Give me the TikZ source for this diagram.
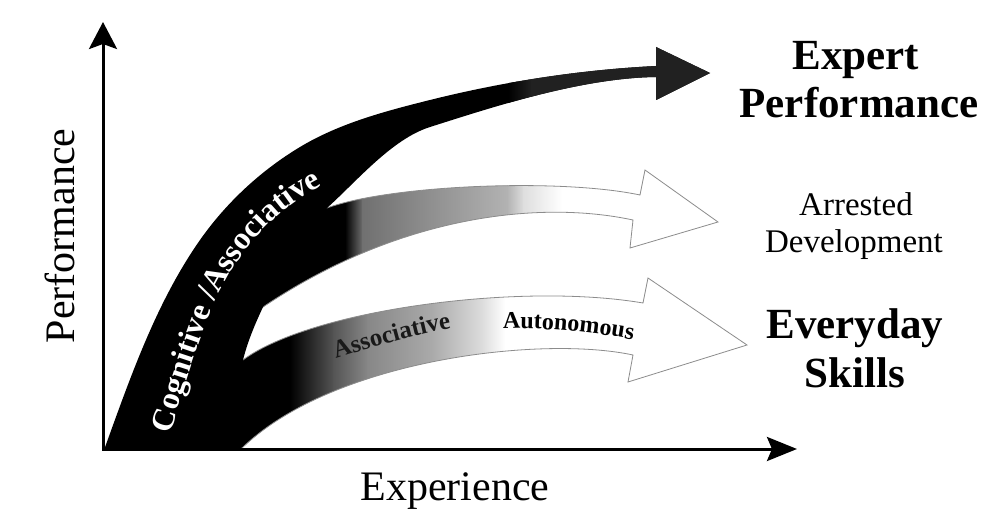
\documentclass[tikz,border=0pt]{standalone}
\usepackage{fontspec}
\setmainfont{Liberation Serif}
\usetikzlibrary{arrows.meta,decorations.text}

\def\everydaypath{(243,360) .. controls (310,310) and (520,282) .. (643,303) -- (648,278) -- (747,345) -- (628,382) -- (633,355) .. controls (540,335) and (330,360) .. (240,450) -- (225,440) -- (232,365) -- cycle}
\def\arrestedpath{(327,208) .. controls (390,185) and (560,178) .. (640,195) -- (645,170) -- (718,222) -- (630,248) -- (633,220) .. controls (540,200) and (400,215) .. (263,307) -- (250,290) -- (310,205) -- cycle}
\def\stempath{(104,450) .. controls (130.3,377.6) and (155.8,303.1) .. (200,240) .. controls (226.2,202.7) and (260.9,170.5) .. (300,147) .. controls (339.4,123.3) and (385.4,111.1) .. (430,100) .. controls (503.7,81.6) and (580.1,69.8) .. (656,66) -- (656,47) -- (710,73) -- (656,100) -- (656,77) .. controls (580,78) and (490,108) .. (430,127) .. controls (392,139) and (357,181) .. (327,208) -- (263,307) .. controls (256,322) and (248,340) .. (243,360) -- (240,450) -- cycle}

\begin{document}
\begin{tikzpicture}[x=1pt,y=-1pt,
  axisline/.style={line width=3pt, line join=miter,
    {Stealth[length=27pt,width=28pt,inset=5pt]}-{Stealth[length=30pt,width=24pt,inset=5pt]}},
  outl/.style={draw=black!45, line width=0.8pt},
  bigbold/.style={font=\fontsize{43}{48}\selectfont\bfseries, anchor=base, inner sep=0pt},
  midlbl/.style={font=\fontsize{33}{37}\selectfont, anchor=base, inner sep=0pt},
  axlbl/.style={font=\fontsize{42}{46}\selectfont, anchor=base, inner sep=0pt}]

\fill[white] (0,0) rectangle (994,516);
\useasboundingbox (0,0) rectangle (994,516);

% Everyday skills arrow
\begin{scope}
  \clip \everydaypath;
  \fill[black] (200,260) rectangle (291,460);
  \shade[left color=black, right color=black!67] (290,260) rectangle (334,460);
  \shade[left color=black!67, right color=black!47] (333,260) rectangle (368,460);
  \shade[left color=black!47, right color=black!33] (367,260) rectangle (434,460);
  \shade[left color=black!33, right color=black!13] (433,260) rectangle (484,460);
  \shade[left color=black!13, right color=white] (483,260) rectangle (505,460);
\end{scope}
\draw[outl] \everydaypath;

% Arrested development arrow
\begin{scope}
  \clip \arrestedpath;
  \fill[black] (240,160) rectangle (346,320);
  \shade[left color=black, right color=black!56] (345,160) rectangle (363,320);
  \shade[left color=black!56, right color=black!30] (362,160) rectangle (508,320);
  \shade[left color=black!30, right color=black!13] (507,160) rectangle (524,320);
  \shade[left color=black!13, right color=white] (523,160) rectangle (562,320);
\end{scope}
\draw[outl] \arrestedpath;

% Stem and expert arrow
\fill[black] \stempath;
\begin{scope}
  \clip \stempath;
  \shade[left color=black, right color=black!87] (508,40) rectangle (532,110);
  \fill[black!87] (531,40) rectangle (720,110);
\end{scope}

% Texts along the bands
\coordinate (c1) at (170,434);
\coordinate (c2) at (213,306);
\coordinate (c3) at (340,178);
\path[decorate, decoration={text along path, text color=white,
  text={|\fontsize{32}{32}\selectfont\bfseries|Cognitive /Associative}}]
  (c1) .. controls (184,389) and (198,342) .. (c2) .. controls (230,266) and (270,204) .. (c3);
\coordinate (a1) at (336,359);
\coordinate (a2) at (462,326);
\path[decorate, decoration={text along path, text color=black!90,
  text={|\fontsize{25}{25}\selectfont\bfseries|Associative}}]
  (a1) .. controls (375,346) and (420,333) .. (a2);
\coordinate (u1) at (503,329);
\coordinate (u2) at (645,342);
\path[decorate, decoration={text along path, text color=black,
  text={|\fontsize{24}{24}\selectfont\bfseries|Autonomous}}]
  (u1) .. controls (545,327) and (600,333) .. (u2);

% Axes
\coordinate (ytip) at (103,22);
\coordinate (O) at (103,449);
\coordinate (xtip) at (797,449);
\draw[axisline] (ytip) -- (O) -- (xtip);

% Labels
\node[axlbl, rotate=90] (perf) at (74,236) {Performance};
\node[axlbl] (expe) at (455,500) {Experience};
\node[bigbold] (expert) at (856,70) {Expert};
\node[bigbold] (perform) at (859,118) {Performance};
\node[midlbl] (arrested) at (856,215) {Arrested};
\node[midlbl] (develop) at (854,252) {Development};
\node[bigbold] (everyday) at (855,338) {Everyday};
\node[bigbold] (skills) at (855,387) {Skills};
\end{tikzpicture}
\end{document}
